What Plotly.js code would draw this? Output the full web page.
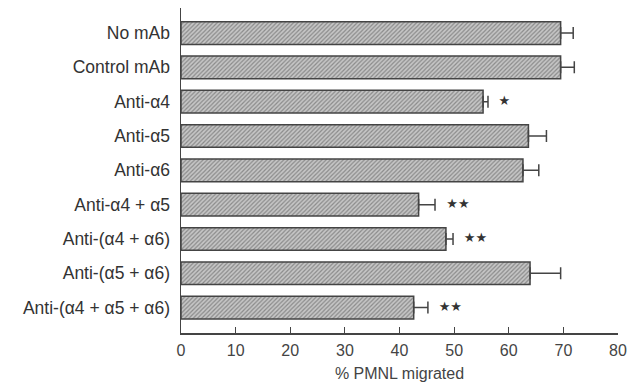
<!DOCTYPE html>
<html>
<head>
<meta charset="utf-8">
<script src="https://cdn.plot.ly/plotly-3.0.1.min.js"></script>
<style>html,body{margin:0;padding:0;background:#fff;}#chart{width:639px;height:389px;}</style>
</head>
<body>
<div id="chart"></div>
<script>
const categories = ["No mAb", "Control mAb", "Anti-α4", "Anti-α5", "Anti-α6", "Anti-α4 + α5", "Anti-(α4 + α6)", "Anti-(α5 + α6)", "Anti-(α4 + α5 + α6)"];
const values = [69.5, 69.5, 55.3, 63.6, 62.6, 43.5, 48.5, 63.9, 42.6];
const errors = [2.3, 2.5, 0.9, 3.3, 2.9, 3.0, 1.3, 5.6, 2.6];
const sigLabels = ["", "", "*", "", "", "**", "**", "", "**"];
const sigX = [null, null, 59.2, null, null, 50.7, 53.9, null, 49.3];
const xTicks = [0, 10, 20, 30, 40, 50, 60, 70, 80];

const starText = sigLabels.map(s => s.replace(/\*/g, "★"));

const traces = [
  {
    type: "bar",
    orientation: "h",
    y: categories,
    x: values,
    marker: {
      color: "#c0c0c0",
      line: {color: "#444", width: 1.5},
      pattern: {shape: "/", fgcolor: "#8a8a8a", bgcolor: "#c6c6c6", size: 3, solidity: 0.4}
    },
    error_x: {type: "data", array: errors, symmetric: false, arrayminus: errors.map(() => 0), color: "#444", thickness: 1.5, width: 6},
    hoverinfo: "skip"
  },
  {
    type: "scatter",
    mode: "text",
    y: categories,
    x: sigX,
    text: starText,
    textfont: {size: 13, color: "#333", family: "DejaVu Sans"},
    textposition: "middle center",
    hoverinfo: "skip",
    cliponaxis: false
  }
];

const layout = {
  width: 639,
  height: 389,
  margin: {l: 181, r: 21, t: 8, b: 56},
  paper_bgcolor: "#fff",
  plot_bgcolor: "#fff",
  showlegend: false,
  bargap: 0.34,
  font: {family: "Liberation Sans, Arial, sans-serif", color: "#444", size: 16},
  xaxis: {
    range: [0, 80],
    tickvals: xTicks,
    ticktext: xTicks.map(String),
    ticks: "inside",
    ticklen: 6,
    tickwidth: 1.2,
    tickcolor: "#444",
    showline: true,
    linecolor: "#444",
    linewidth: 1.5,
    showgrid: false,
    zeroline: false,
    tickfont: {size: 16, color: "#444"},
    ticklabelstandoff: 2,
    title: {text: "% PMNL migrated", font: {size: 16, color: "#444"}, standoff: 10}
  },
  yaxis: {
    type: "category",
    range: [8.74, -0.73],
    showline: true,
    linecolor: "#444",
    linewidth: 1.5,
    ticks: "",
    showgrid: false,
    zeroline: false,
    tickfont: {size: 17.5, color: "#333"},
    ticklabelstandoff: 6
  }
};

Plotly.newPlot("chart", traces, layout, {displayModeBar: false, staticPlot: true});
</script>
</body>
</html>
